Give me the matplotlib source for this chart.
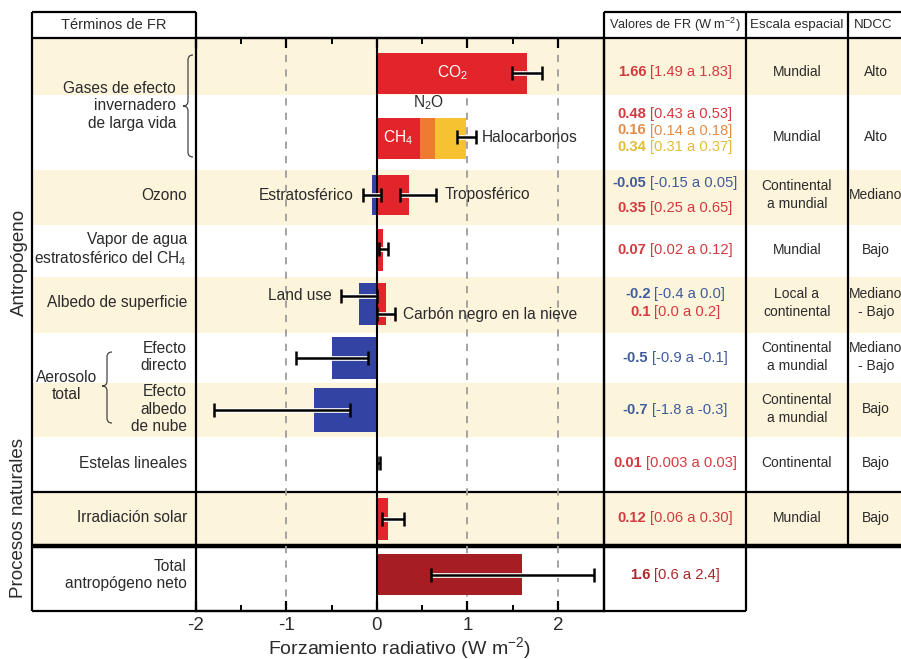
import numpy as np
import matplotlib
matplotlib.use("Agg")
import matplotlib.pyplot as plt
import matplotlib.patheffects as pe
from matplotlib.path import Path
from matplotlib.patches import PathPatch, Rectangle

plt.rcParams["font.family"] = ["Liberation Sans", "DejaVu Sans"]
plt.rcParams["mathtext.fontset"] = "custom"
plt.rcParams["mathtext.rm"] = "Liberation Sans"
plt.rcParams["mathtext.it"] = "Liberation Sans:italic"
plt.rcParams["mathtext.bf"] = "Liberation Sans:bold"
plt.rcParams["axes.unicode_minus"] = False

# ----------------------------
# 1. Data (W m-2)
# ----------------------------
bar_names = ["CO2", "CH4", "N2O", "Halocarbonos", "Ozono estratosférico",
             "Ozono troposférico", "Vapor de agua", "Land use",
             "Carbón negro en la nieve", "Aerosol directo", "Aerosol nube",
             "Estelas lineales", "Irradiación solar", "Total antropógeno neto"]
bar_values = [1.66, 0.48, 0.16, 0.34, -0.05, 0.35, 0.07, -0.2, 0.1,
              -0.5, -0.7, 0.01, 0.12, 1.6]
bar_row = [0, 1, 1, 1, 2, 2, 3, 4, 4, 5, 6, 7, 8, 9]
err_low = [1.49, np.nan, np.nan, 0.88, -0.15, 0.25, 0.02, -0.4, 0.0,
           -0.9, -1.8, 0.003, 0.06, 0.6]
err_high = [1.83, np.nan, np.nan, 1.09, 0.05, 0.65, 0.12, 0.0, 0.2,
            -0.1, -0.3, 0.03, 0.30, 2.4]

val_bold = ["1.66", "0.48", "0.16", "0.34", "-0.05", "0.35", "0.07", "-0.2",
            "0.1", "-0.5", "-0.7", "0.01", "0.12", "1.6"]
val_range = ["[1.49 a 1.83]", "[0.43 a 0.53]", "[0.14 a 0.18]", "[0.31 a 0.37]",
             "[-0.15 a 0.05]", "[0.25 a 0.65]", "[0.02 a 0.12]", "[-0.4 a 0.0]",
             "[0.0 a 0.2]", "[-0.9 a -0.1]", "[-1.8 a -0.3]", "[0.003 a 0.03]",
             "[0.06 a 0.30]", "[0.6 a 2.4]"]

row_labels = ["", "", "Ozono", "Vapor de agua\nestratosférico del CH$_4$",
              "Albedo de superficie", "Efecto\ndirecto", "Efecto\nalbedo\nde nube",
              "Estelas lineales", "Irradiación solar", "Total\nantropógeno neto"]
escala = ["Mundial", "Mundial", "Continental\na mundial", "Mundial",
          "Local a\ncontinental", "Continental\na mundial", "Continental\na mundial",
          "Continental", "Mundial"]
ndcc = ["Alto", "Alto", "Mediano", "Bajo", "Mediano\n- Bajo", "Mediano\n- Bajo",
        "Bajo", "Bajo", "Bajo"]

# ----------------------------
# 2. Layout (pixel rows of the figure) and styles
# ----------------------------
red, orange, yellow = "#e1252b", "#ef7b33", "#f7c232"
blue, darkred = "#3343a4", "#a71d24"
bar_colors = [red, red, orange, yellow, blue, red, red, blue, red, blue, blue,
              "#222222", red, darkred]
txt_colors = ["#d33a3f", "#d33a3f", "#e38b45", "#e2bd35", "#3f5b9c", "#d33a3f",
              "#d33a3f", "#3f5b9c", "#d33a3f", "#3f5b9c", "#3f5b9c", "#d33a3f",
              "#d33a3f", "#a8282d"]
bar_y = [73, 138, 138, 138, 195, 195, 250, 304, 304, 358, 410, 462, 519, 574]
bar_h = [41, 41, 41, 41, 40, 40, 42, 42, 42, 42, 44, 19, 42, 41]
err_y = [73, 138, 138, 137, 195, 195, 249, 296, 314, 358, 410, 463, 519, 575]
val_y = [72, 114, 130.5, 147, 183, 208, 250, 294, 312, 358, 410, 463, 518, 575]
row_text_y = [72, 137, 195, 250, 303, 357, 409, 463, 518, 575]
bands = [(38, 95), (170, 225), (277, 333), (383, 437), (492, 546)]
ink = "#2b2b2b"

fig = plt.figure(figsize=(9.01, 6.59), dpi=100)
bg = fig.add_axes([0, 0, 1, 1])
bg.set_xlim(0, 901)
bg.set_ylim(659, 0)
bg.axis("off")

# beige bands
for y0, y1 in bands:
    bg.add_patch(Rectangle((32, y0), 901 - 32, y1 - y0, color="#fdf4dc", lw=0))

# frame / table lines
lw = 1.6
bg.vlines(32, 12, 611, color="k", lw=lw)
bg.hlines(12, 32, 196, color="k", lw=lw)
bg.vlines(196, 12, 38, color="k", lw=lw)
bg.hlines(38, 32, 901, color="k", lw=lw)
bg.hlines(12, 604, 901, color="k", lw=lw)
bg.vlines([604, 746], 12, 611, color="k", lw=lw)
bg.vlines(848, 12, 546, color="k", lw=lw)
bg.hlines(492, 32, 901, color="k", lw=lw)
bg.hlines(546, 32, 901, color="k", lw=3.2)
bg.hlines(611, 32, 746, color="k", lw=lw)


def brace(x, y0, y1, ym, w):
    verts = [(x + w, y0), (x, y0), (x, y0 + w), (x, ym - w), (x, ym), (x - w, ym),
             (x, ym), (x, ym + w), (x, y1 - w), (x, y1), (x + w, y1)]
    codes = [Path.MOVETO, Path.CURVE3, Path.CURVE3, Path.LINETO, Path.CURVE3,
             Path.CURVE3, Path.CURVE3, Path.CURVE3, Path.LINETO, Path.CURVE3,
             Path.CURVE3]
    bg.add_patch(PathPatch(Path(verts, codes), fill=False, ec="#444444", lw=0.9))


brace(188, 55, 157, 106, 5)
brace(107, 352, 423, 386, 5)

# headers
bg.text(114, 25, "Términos de FR", ha="center", va="center", fontsize=10.5, color=ink)
bg.text(675, 25, "Valores de FR (W m$^{-2}$)", ha="center", va="center",
        fontsize=9.2, color=ink)
bg.text(797, 25, "Escala espacial", ha="center", va="center", fontsize=9.6, color=ink)
bg.text(873, 25, "NDCC", ha="center", va="center", fontsize=9.6, color=ink)

# row labels
bg.text(176, 106, "Gases de efecto\ninvernadero\nde larga vida", ha="right",
        va="center", fontsize=11.2, color=ink)
for lab, y in zip(row_labels, row_text_y):
    if lab:
        bg.text(187, y, lab, ha="right", va="center", fontsize=11.2, color=ink)
bg.text(67, 386, "Aerosolo\ntotal", ha="center", va="center", fontsize=11.2, color=ink)
bg.text(19, 262, "Antropógeno", rotation=90, ha="center", va="center",
        fontsize=13.5, color=ink)
bg.text(19, 518, "Procesos naturales", rotation=90, ha="center", va="center",
        fontsize=13.5, color=ink)

# table values: bold best estimate + range, centred together in the column
renderer = fig.canvas.get_renderer()
for b, r, y, c in zip(val_bold, val_range, val_y, txt_colors):
    t1 = bg.text(0, y, b, ha="left", va="center", fontsize=10.6, color=c,
                 fontweight="bold")
    t2 = bg.text(0, y, r, ha="left", va="center", fontsize=10.6, color=c)
    w1 = t1.get_window_extent(renderer).width
    w2 = t2.get_window_extent(renderer).width
    gap = 3.5
    x0 = 675 - (w1 + gap + w2) / 2
    t1.set_x(x0)
    t2.set_x(x0 + w1 + gap)
for e, n, y in zip(escala, ndcc, row_text_y):
    bg.text(797, y, e, ha="center", va="center", fontsize=10, color=ink,
            linespacing=1.3)
    bg.text(876, y, n, ha="center", va="center", fontsize=10, color=ink,
            linespacing=1.3)

# ----------------------------
# 3. Forcing bars
# ----------------------------
ax = fig.add_axes([196 / 901, (659 - 611) / 659, (604 - 196) / 901, (611 - 38) / 659])
ax.set_facecolor("none")
ax.set_xlim(-2, 2.51)
ax.set_ylim(611, 38)

lefts = []
for i, v in enumerate(bar_values):
    prev = [bar_values[j] for j in range(i) if bar_row[j] == bar_row[i] and bar_values[j] > 0]
    lefts.append(sum(prev) if v > 0 else 0)

for x in [-1, 1, 2]:
    ax.axvline(x, color="#9c9c9c", lw=1.3, ls=(0, (4, 4)), zorder=0.5)

ax.barh(bar_y, bar_values, left=lefts, height=bar_h, color=bar_colors, lw=0, zorder=2)
ax.axvline(0, color="k", lw=1.5, zorder=3)

lo = np.array(err_low)
hi = np.array(err_high)
ok = ~np.isnan(lo)
eb = ax.errorbar((lo[ok] + hi[ok]) / 2, np.array(err_y)[ok], xerr=(hi[ok] - lo[ok]) / 2,
                 fmt="none", ecolor="k", elinewidth=1.8, capsize=5, capthick=1.8, zorder=4)
for coll in eb[2]:
    coll.set_path_effects([pe.Stroke(linewidth=3.4, foreground="white"), pe.Normal()])

# labels on the bars
ax.text(0.84, 73, "CO$_2$", color="white", ha="center", va="center", fontsize=11.2)
ax.text(0.235, 138, "CH$_4$", color="white", ha="center", va="center", fontsize=11.2)
ax.text(0.57, 103, "N$_2$O", color=ink, ha="center", va="center", fontsize=11.2)
ax.text(1.16, 137, "Halocarbonos", color=ink, ha="left", va="center", fontsize=11.2)
ax.text(-0.26, 195, "Estratosférico", color=ink, ha="right", va="center", fontsize=11.2)
ax.text(0.75, 195, "Troposférico", color=ink, ha="left", va="center", fontsize=11.2)
ax.text(-0.5, 296, "Land use", color=ink, ha="right", va="center", fontsize=11.2)
ax.text(0.29, 314, "Carbón negro en la nieve", color=ink, ha="left", va="center",
        fontsize=11.2)

# axis styling
ax.set_yticks([])
ax.set_xticks([-2, -1, 0, 1, 2])
ax.set_xticks([-1.5, -0.5, 0.5, 1.5], minor=True)
ax.tick_params(axis="x", which="major", direction="in", top=True, length=7, width=1.6,
               labelsize=13.5, pad=4, labelcolor=ink)
ax.tick_params(axis="x", which="minor", direction="in", top=True, length=4, width=1.4)
for s in ax.spines.values():
    s.set_linewidth(lw)
ax.set_xlabel("Forzamiento radiativo (W m$^{-2}$)", fontsize=14, color=ink, labelpad=1)

fig.savefig("out.png", dpi=100)
